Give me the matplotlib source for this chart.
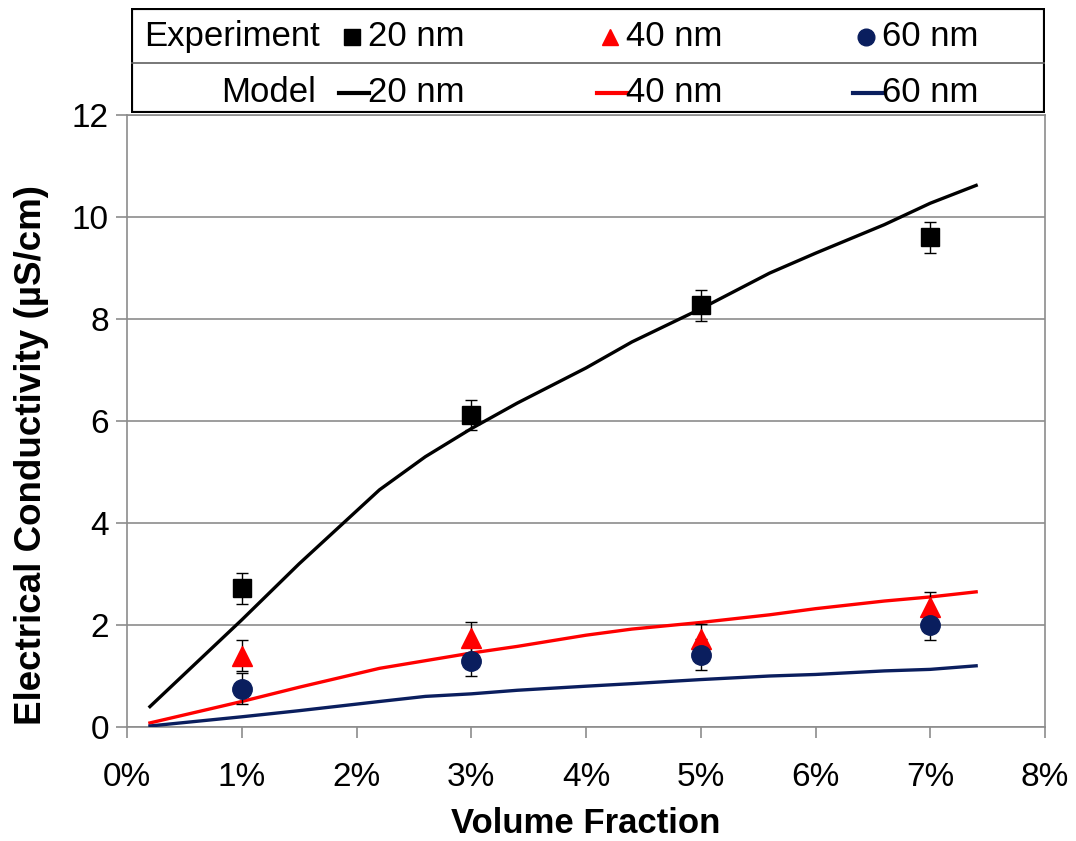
import matplotlib.pyplot as plt
from matplotlib.patches import Rectangle

plt.rcParams['font.family'] = ['Liberation Sans', 'DejaVu Sans']

# experiment points (volume fraction in %, conductivity in uS/cm)
exp_x = [1, 3, 5, 7]
exp_20 = [2.72, 6.12, 8.27, 9.6]
exp_40 = [1.4, 1.75, 1.72, 2.35]
exp_60 = [0.75, 1.3, 1.42, 2.0]
exp_err = [0.3, 0.3, 0.3, 0.3]

# model curves
mod_x = [0.2, 1.0, 1.5, 2.2, 2.6, 3.0, 3.4, 4.0, 4.4, 5.0, 5.6, 6.0, 6.6, 7.0, 7.4]
mod_20 = [0.4, 2.1, 3.2, 4.65, 5.3, 5.85, 6.35, 7.04, 7.55, 8.2, 8.9, 9.29, 9.85, 10.27, 10.62]
mod_40 = [0.08, 0.5, 0.78, 1.15, 1.3, 1.45, 1.58, 1.8, 1.92, 2.05, 2.2, 2.32, 2.47, 2.55, 2.65]
mod_60 = [0.02, 0.2, 0.32, 0.5, 0.6, 0.65, 0.72, 0.8, 0.85, 0.93, 1.0, 1.03, 1.1, 1.13, 1.2]

xticks = [0, 1, 2, 3, 4, 5, 6, 7, 8]
xticklabels = ['0%', '1%', '2%', '3%', '4%', '5%', '6%', '7%', '8%']
yticks = [0, 2, 4, 6, 8, 10, 12]

BLACK = '#000000'
RED = '#FF0000'
NAVY = '#0A1E5E'
GRID = '#8C8C8C'

W, H = 1076, 841
fig = plt.figure(figsize=(W / 100, H / 100), dpi=100)
ax = fig.add_axes([127 / W, 1 - 727 / H, (1045 - 127) / W, (727 - 115) / H])

ax.plot(mod_x, mod_20, color=BLACK, lw=2.4, zorder=3)
ax.plot(mod_x, mod_40, color=RED, lw=2.4, zorder=3)
ax.plot(mod_x, mod_60, color=NAVY, lw=2.4, zorder=3)

ax.errorbar(exp_x, exp_20, yerr=exp_err, fmt='s', color=BLACK, ms=13,
            ecolor=BLACK, elinewidth=1, capsize=4, zorder=4)
ax.errorbar(exp_x, exp_40, yerr=exp_err, fmt='^', color=RED, ms=14,
            ecolor=BLACK, elinewidth=1, capsize=4, zorder=4)
ax.errorbar(exp_x, exp_60, yerr=exp_err, fmt='o', color=NAVY, ms=14,
            ecolor=BLACK, elinewidth=1, capsize=4, zorder=4)

ax.set_xlim(0, 8)
ax.set_ylim(0, 12)
ax.set_xticks(xticks)
ax.set_xticklabels(xticklabels)
ax.set_yticks(yticks)
ax.tick_params(axis='both', labelsize=24, color=GRID, length=8, width=1.2)
ax.tick_params(axis='x', pad=17)
ax.tick_params(axis='y', pad=5)
ax.yaxis.grid(True, color=GRID, lw=1.2)
ax.set_axisbelow(True)
for s in ax.spines.values():
    s.set_color(GRID)
    s.set_linewidth(1.2)

ax.set_xlabel('Volume Fraction', fontsize=25, fontweight='bold', labelpad=10)
ax.set_ylabel('Electrical Conductivity (µS/cm)', fontsize=26.5, fontweight='bold')
ax.yaxis.set_label_coords(-0.085, 0.444)

# legend box drawn by hand, in pixel-like coordinates
lg = fig.add_axes([131 / W, 1 - 113 / H, (1045 - 131) / W, (113 - 8) / H])
lg.set_xlim(131, 1045)
lg.set_ylim(113, 8)
lg.axis('off')
lg.add_patch(Rectangle((131, 8), 914, 105, fill=True, fc='white', ec='black', lw=3, zorder=1))
lg.plot([131, 1045], [63, 63], color='#606060', lw=1.2, zorder=2)

fs = 25
lg.text(144, 37, 'Experiment', fontsize=fs, va='center', ha='left')
lg.text(316, 93, 'Model', fontsize=fs, va='center', ha='right')

keys = [(352, 's', BLACK, 11), (610, '^', RED, 12), (866, 'o', NAVY, 12)]
for (kx, mk, c, ms), lab in zip(keys, ['20 nm', '40 nm', '60 nm']):
    lg.plot([kx], [37], marker=mk, color=c, ms=ms, zorder=3)
    lg.text(kx + 16, 37, lab, fontsize=fs, va='center', ha='left')
    lg.plot([kx - 13, kx + 17], [93, 93], color=c, lw=3, zorder=3)
    lg.text(kx + 16, 93, lab, fontsize=fs, va='center', ha='left')

fig.savefig('out.png', dpi=100)
